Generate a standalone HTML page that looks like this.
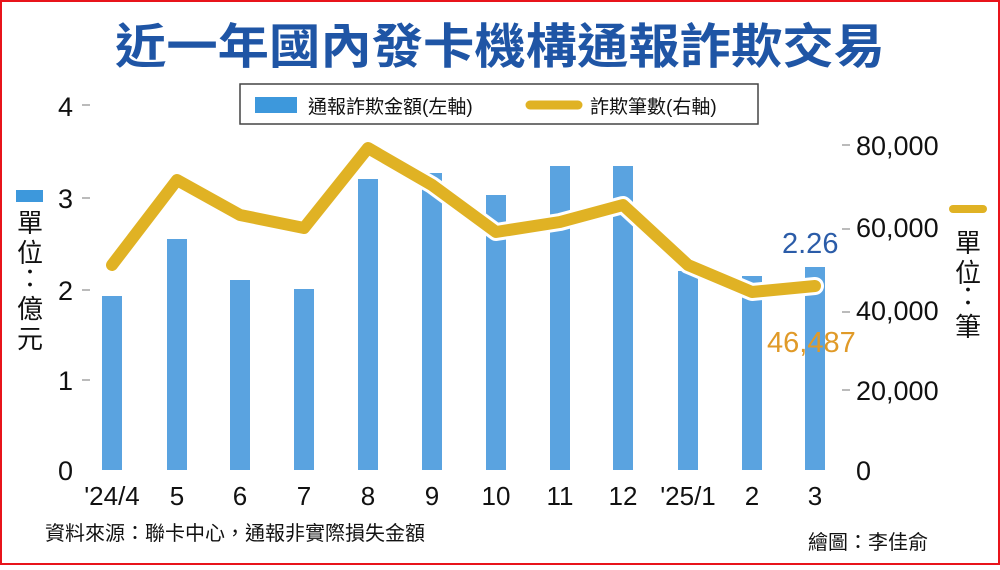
<!DOCTYPE html><html><head><meta charset="utf-8"><style>
body{margin:0;width:1000px;height:565px;overflow:hidden;background:#fff}
svg text{font-family:"Liberation Sans","Noto Sans CJK TC",sans-serif}
</style></head><body>
<svg width="1000" height="565" viewBox="0 0 1000 565">
<rect x="1" y="1" width="998" height="563" fill="#fff" stroke="#e8141b" stroke-width="2"/>
<text x="500" y="63" text-anchor="middle" font-size="48" font-weight="bold" fill="#1f55a5" textLength="770" lengthAdjust="spacingAndGlyphs" style="font-family:'Noto Sans CJK TC',sans-serif">近一年國內發卡機構通報詐欺交易</text>
<rect x="240" y="84" width="518" height="40" fill="#fff" stroke="#444" stroke-width="1.5"/>
<rect x="255" y="97" width="42" height="16" fill="#3d98dc"/>
<text x="308" y="113" font-size="19" fill="#111">通報詐欺金額(左軸)</text>
<line x1="530" y1="105" x2="578" y2="105" stroke="#e0b224" stroke-width="9" stroke-linecap="round"/>
<text x="590" y="113" font-size="19" fill="#111">詐欺筆數(右軸)</text>
<g font-size="27" fill="#111" text-anchor="end">
<text x="73" y="116">4</text><text x="73" y="208">3</text><text x="73" y="300">2</text><text x="73" y="390">1</text><text x="73" y="480">0</text></g>
<g stroke="#bbb" stroke-width="2"><line x1="82" y1="105" x2="90" y2="105"/><line x1="82" y1="198" x2="90" y2="198"/><line x1="82" y1="290" x2="90" y2="290"/><line x1="82" y1="380" x2="90" y2="380"/>
<line x1="842" y1="145" x2="850" y2="145"/><line x1="842" y1="229" x2="850" y2="229"/><line x1="842" y1="312" x2="850" y2="312"/><line x1="842" y1="390" x2="850" y2="390"/></g>
<g font-size="27" fill="#111"><text x="856" y="155">80,000</text><text x="856" y="237">60,000</text><text x="856" y="320">40,000</text><text x="856" y="400">20,000</text><text x="856" y="480">0</text></g>
<rect x="16" y="190" width="27" height="12" fill="#3d98dc"/>
<g font-size="26" fill="#111" text-anchor="middle"><text x="30" y="232">單</text><text x="30" y="262">位</text><text x="30" y="288">：</text><text x="30" y="318">億</text><text x="30" y="348">元</text></g>
<line x1="953" y1="209" x2="983" y2="209" stroke="#e0b224" stroke-width="8" stroke-linecap="round"/>
<g font-size="26" fill="#111" text-anchor="middle"><text x="968" y="252">單</text><text x="968" y="282">位</text><text x="968" y="306">：</text><text x="968" y="336">筆</text></g>
<g fill="#5aa3e0">
<rect x="102" y="296" width="20" height="174"/><rect x="167" y="239" width="20" height="231"/><rect x="230" y="280" width="20" height="190"/><rect x="294" y="289" width="20" height="181"/><rect x="358" y="179" width="20" height="291"/><rect x="422" y="173" width="20" height="297"/><rect x="486" y="195" width="20" height="275"/><rect x="550" y="166" width="20" height="304"/><rect x="613" y="166" width="20" height="304"/><rect x="678" y="271" width="20" height="199"/><rect x="742" y="276" width="20" height="194"/><rect x="805" y="267" width="20" height="203"/></g>
<polyline points="112,265 177,180 240,215 304,228 368,148 432,185 496,232 560,222 623,205 688,265 752,292 815,286" fill="none" stroke="#fff" stroke-width="18" stroke-linejoin="round" stroke-linecap="round"/>
<polyline points="112,265 177,180 240,215 304,228 368,148 432,185 496,232 560,222 623,205 688,265 752,292 815,286" fill="none" stroke="#e0b224" stroke-width="12" stroke-linejoin="round" stroke-linecap="round"/>
<text x="782" y="253" font-size="29" fill="#2b5ca8">2.26</text>
<text x="767" y="352" font-size="29" fill="#e09a28">46,487</text>
<g font-size="26" fill="#111" text-anchor="middle"><text x="112" y="505">'24/4</text><text x="177" y="505">5</text><text x="240" y="505">6</text><text x="304" y="505">7</text><text x="368" y="505">8</text><text x="432" y="505">9</text><text x="496" y="505">10</text><text x="560" y="505">11</text><text x="623" y="505">12</text><text x="688" y="505">'25/1</text><text x="752" y="505">2</text><text x="815" y="505">3</text></g>
<text x="45" y="540" font-size="20" fill="#111">資料來源：聯卡中心，通報非實際損失金額</text>
<text x="808" y="549" font-size="20" fill="#111">繪圖：李佳俞</text>
</svg></body></html>
